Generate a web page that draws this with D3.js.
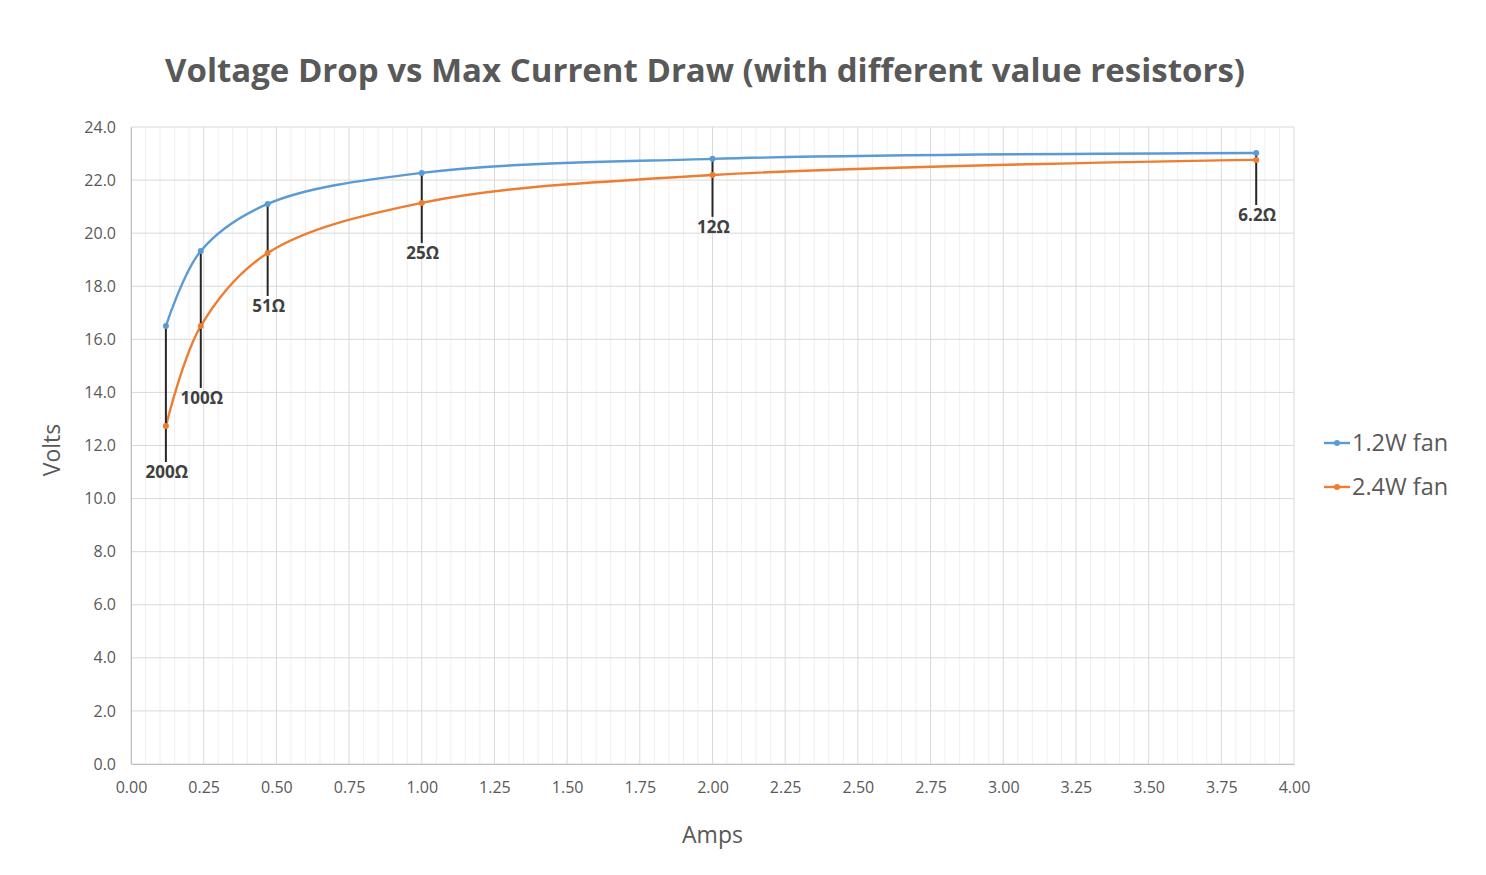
<!DOCTYPE html>
<html>
<head>
<meta charset="utf-8">
<script src="https://cdn.jsdelivr.net/npm/d3@7"></script>
<style>
  body { margin: 0; background: #fff; }
  text { font-family: "Open Sans", "Noto Sans", sans-serif; }
</style>
</head>
<body>
<svg id="chart" width="1486" height="875"></svg>
<script>

// data
const amps      = [0.12, 0.24, 0.47, 1.00, 2.00, 3.87]
const fan12W    = [16.50, 19.33, 21.10, 22.27, 22.80, 23.02]
const fan24W    = [12.73, 16.50, 19.25, 21.14, 22.19, 22.76]
const resistors = ["200Ω", "100Ω", "51Ω", "25Ω", "12Ω", "6.2Ω"]
const labelDrop = [146, 147, 102, 80, 68, 62]   // how far below the top point each label sits
const xTicks    = d3.range(0, 4.001, 0.25)
const yTicks    = d3.range(0, 24.001, 2)

const series = [
  { name: "1.2W fan", values: fan12W, color: "#5b9bd5" },
  { name: "2.4W fan", values: fan24W, color: "#ed7d31" }
]

const svg = d3.select("#chart")

const plotL = 131, plotR = 1294, plotT = 127, plotB = 764

const x = d3.scaleLinear().domain([0, 4]).range([plotL, plotR])
const y = d3.scaleLinear().domain([0, 24]).range([plotB, plotT])

// title
svg.append("text")
  .attr("x", 705).attr("y", 82)
  .attr("text-anchor", "middle")
  .style("font-size", "33px").style("font-weight", "bold")
  .attr("fill", "#595959")
  .text("Voltage Drop vs Max Current Draw (with different value resistors)")

// minor vertical grid
svg.append("g").selectAll("line")
  .data(d3.range(0, 4.001, 0.05).filter(v => Math.abs(v / 0.25 - Math.round(v / 0.25)) > 0.01))
  .join("line")
  .attr("x1", d => x(d)).attr("x2", d => x(d))
  .attr("y1", plotT).attr("y2", plotB)
  .attr("stroke", "#efefef").attr("stroke-width", 1)

// major grid
svg.append("g").selectAll("line")
  .data(xTicks).join("line")
  .attr("x1", d => x(d)).attr("x2", d => x(d))
  .attr("y1", plotT).attr("y2", plotB)
  .attr("stroke", "#d9d9d9").attr("stroke-width", 1)

svg.append("g").selectAll("line")
  .data(yTicks).join("line")
  .attr("x1", plotL).attr("x2", plotR)
  .attr("y1", d => y(d)).attr("y2", d => y(d))
  .attr("stroke", "#d9d9d9").attr("stroke-width", 1)

// axes
const xAxis = svg.append("g")
  .attr("transform", `translate(0,${plotB})`)
  .call(d3.axisBottom(x).tickValues(xTicks).tickFormat(d3.format(".2f")).tickSize(0).tickPadding(18))
const yAxis = svg.append("g")
  .attr("transform", `translate(${plotL},0)`)
  .call(d3.axisLeft(y).tickValues(yTicks).tickFormat(d3.format(".1f")).tickSize(0).tickPadding(15))

;[xAxis, yAxis].forEach(a => {
  a.select(".domain").attr("stroke", "#bfbfbf")
  a.selectAll("text").attr("fill", "#595959").style("font-size", "16px")
})

// axis titles
svg.append("text")
  .attr("x", x(2)).attr("y", 843)
  .attr("text-anchor", "middle")
  .style("font-size", "23px").attr("fill", "#595959")
  .text("Amps")

svg.append("text")
  .attr("transform", "translate(60,450) rotate(-90)")
  .attr("text-anchor", "middle")
  .style("font-size", "23px").attr("fill", "#595959")
  .text("Volts")

// smoothed lines
const line = d3.line()
  .x((d, i) => x(amps[i]))
  .y(d => y(d))
  .curve(d3.curveCatmullRom.alpha(0.5))

series.forEach(s => {
  svg.append("path")
    .attr("d", line(s.values))
    .attr("fill", "none")
    .attr("stroke", s.color)
    .attr("stroke-width", 2.4)
})

// resistor callouts
const callouts = svg.append("g")
amps.forEach((a, i) => {
  const topY = y(Math.max(fan12W[i], fan24W[i]))
  callouts.append("line")
    .attr("x1", x(a)).attr("x2", x(a))
    .attr("y1", topY).attr("y2", topY + labelDrop[i] - 10)
    .attr("stroke", "#262626").attr("stroke-width", 2)
  callouts.append("text")
    .attr("x", x(a) + 1).attr("y", topY + labelDrop[i] + 6)
    .attr("text-anchor", "middle")
    .style("font-size", "17px").style("font-weight", "bold")
    .attr("fill", "#404040")
    .text(resistors[i])
})

// markers
series.forEach(s => {
  svg.append("g").selectAll("circle")
    .data(s.values).join("circle")
    .attr("cx", (d, i) => x(amps[i]))
    .attr("cy", d => y(d))
    .attr("r", 3)
    .attr("fill", s.color)
})

// legend
const legend = svg.append("g")
series.forEach((s, i) => {
  const ly = 443 + i * 44
  legend.append("line")
    .attr("x1", 1324).attr("x2", 1350)
    .attr("y1", ly).attr("y2", ly)
    .attr("stroke", s.color).attr("stroke-width", 2.4)
  legend.append("circle")
    .attr("cx", 1337).attr("cy", ly).attr("r", 3)
    .attr("fill", s.color)
  legend.append("text")
    .attr("x", 1352).attr("y", ly + 8)
    .style("font-size", "23.5px").attr("fill", "#595959")
    .text(s.name)
})

</script>
</body>
</html>
